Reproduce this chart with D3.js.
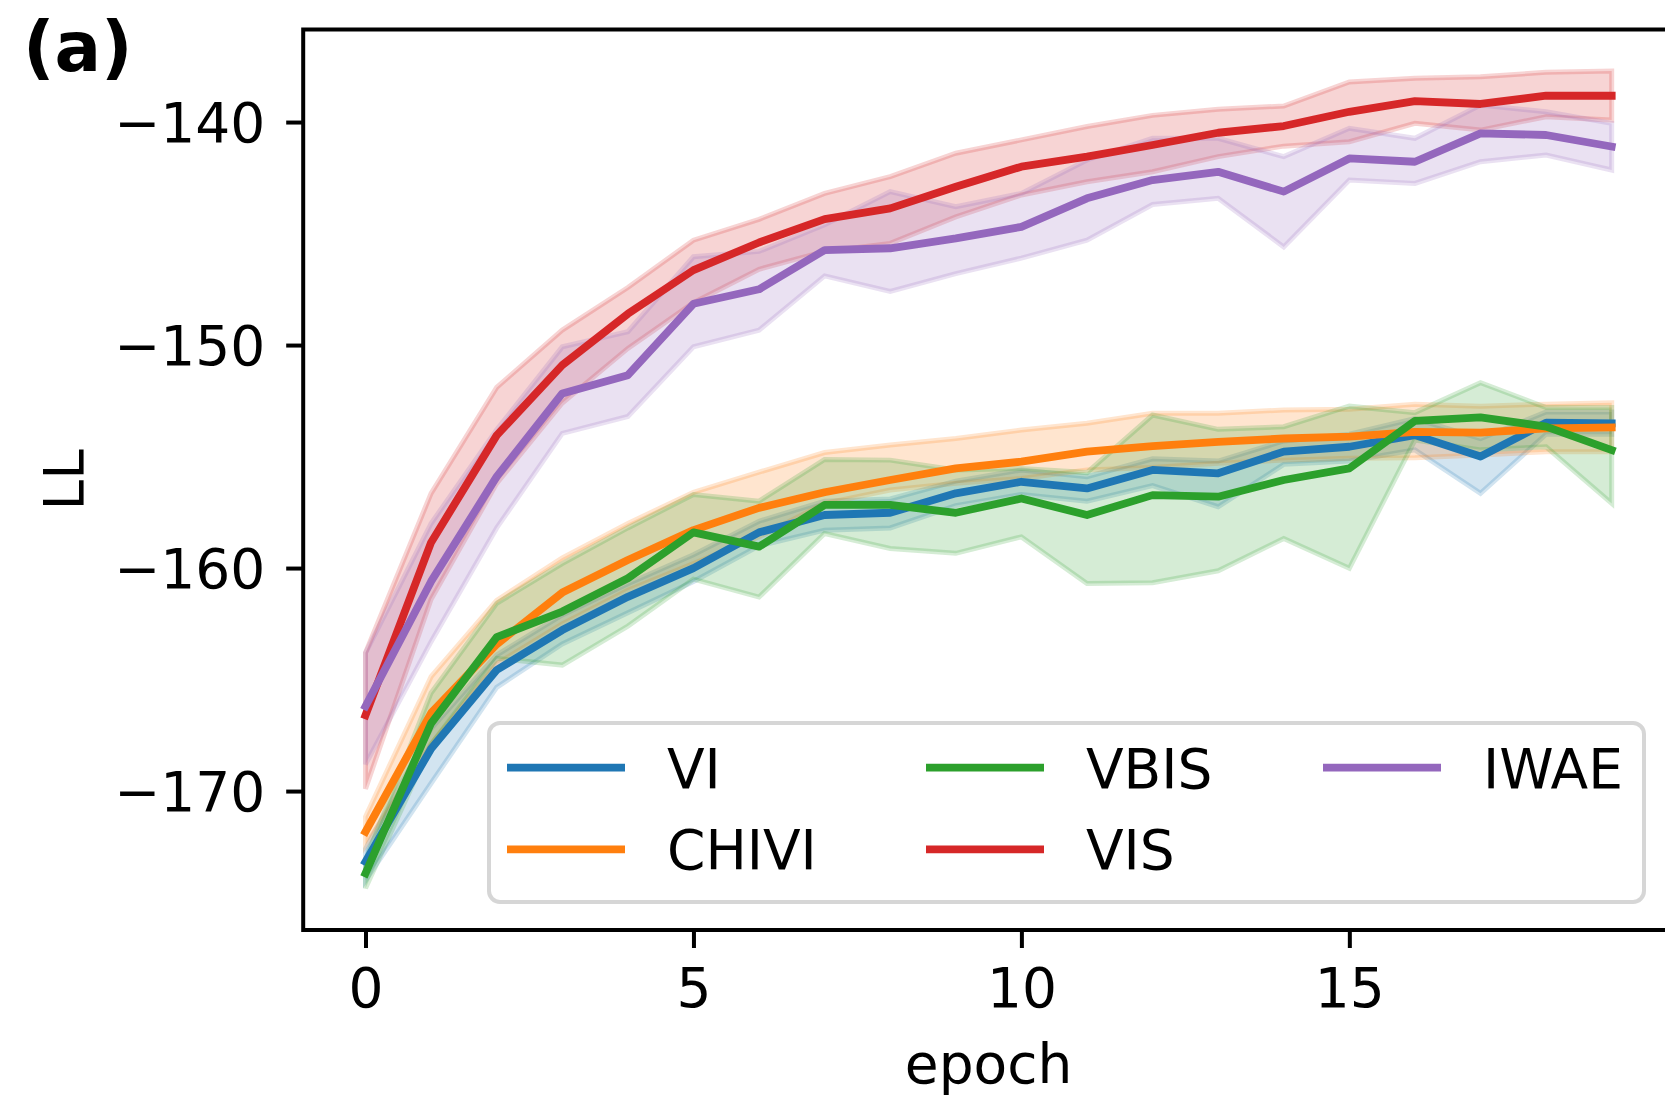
<!DOCTYPE html>
<html>
<head>
<meta charset="utf-8">
<script src="https://cdn.jsdelivr.net/npm/d3@7"></script>
<style>
  html, body { margin: 0; padding: 0; background: #fff; }
  svg { display: block; }
  text { font-family: "DejaVu Sans", sans-serif; }
</style>
</head>
<body>
<svg id="chart" width="1665" height="1095"></svg>
<script>
const epochs = d3.range(0, 20);
const xTicks = [0, 5, 10, 15];
const yTicks = [-140, -150, -160, -170];

const seriesNames = ["VI", "CHIVI", "VBIS", "VIS", "IWAE"];
const seriesColors = ["#1f77b4", "#ff7f0e", "#2ca02c", "#d62728", "#9467bd"];

const viMean  = [-173.17, -168.1, -164.57, -162.78, -161.29, -160.0, -158.4, -157.62, -157.52, -156.65, -156.13, -156.43, -155.6, -155.75, -154.78, -154.56, -154.04, -155.0, -153.48, -153.51];
const viUpper = [-172.6, -167.2, -163.9, -162.1, -160.7, -159.4, -157.9, -157.0, -156.9, -156.1, -155.6, -155.9, -155.1, -155.2, -154.3, -154.0, -153.3, -154.2, -153.0, -153.0];
const viLower = [-174.0, -169.65, -165.35, -163.4, -162.0, -160.6, -159.0, -158.3, -158.2, -157.2, -156.7, -157.0, -156.3, -157.25, -155.35, -155.2, -154.7, -156.65, -154.0, -154.0];

const chiviMean  = [-171.82, -166.5, -163.42, -161.1, -159.64, -158.3, -157.3, -156.6, -156.05, -155.53, -155.23, -154.78, -154.53, -154.34, -154.19, -154.11, -153.89, -153.93, -153.74, -153.69];
const chiviUpper = [-171.15, -164.87, -161.45, -159.55, -158.0, -156.6, -155.7, -154.82, -154.48, -154.19, -153.81, -153.51, -153.06, -153.06, -152.91, -152.88, -152.65, -152.74, -152.65, -152.59];
const chiviLower = [-172.42, -167.9, -164.3, -162.5, -161.0, -159.8, -158.6, -157.1, -156.5, -156.2, -155.98, -155.6, -155.49, -155.3, -155.16, -155.08, -155.05, -154.93, -154.78, -154.78];

const vbisMean  = [-173.69, -166.96, -163.1, -161.95, -160.46, -158.4, -159.04, -157.17, -157.17, -157.52, -156.88, -157.62, -156.73, -156.8, -156.05, -155.53, -153.4, -153.24, -153.66, -154.71];
const vbisUpper = [-173.1, -165.6, -161.58, -159.8, -158.2, -156.7, -157.0, -155.13, -155.16, -155.6, -155.53, -155.72, -153.14, -153.78, -153.66, -152.74, -153.03, -151.69, -152.8, -152.8];
const vbisLower = [-174.36, -167.9, -164.05, -164.35, -162.6, -160.5, -161.3, -158.45, -159.12, -159.34, -158.6, -160.69, -160.66, -160.12, -158.67, -160.01, -154.26, -154.7, -154.56, -157.1];

const visMean  = [-166.6, -158.85, -154.05, -150.9, -148.6, -146.64, -145.4, -144.35, -143.87, -142.9, -142.0, -141.55, -141.03, -140.48, -140.18, -139.54, -139.06, -139.19, -138.82, -138.82];
const visUpper = [-163.8, -156.65, -151.9, -149.33, -147.42, -145.3, -144.36, -143.2, -142.45, -141.4, -140.8, -140.2, -139.7, -139.43, -139.28, -138.2, -138.04, -137.97, -137.77, -137.71];
const visLower = [-169.9, -161.4, -156.2, -152.6, -150.15, -148.1, -146.6, -145.8, -145.44, -144.25, -143.27, -142.68, -142.23, -141.55, -141.08, -140.88, -140.06, -140.36, -139.76, -139.91];

const iwaeMean  = [-166.2, -160.6, -155.9, -152.17, -151.35, -148.15, -147.5, -145.74, -145.66, -145.22, -144.7, -143.42, -142.6, -142.23, -143.12, -141.63, -141.78, -140.51, -140.58, -141.1];
const iwaeUpper = [-163.8, -158.0, -153.8, -150.08, -149.4, -146.04, -145.8, -144.6, -143.12, -143.8, -143.2, -141.7, -140.73, -140.73, -141.55, -140.28, -140.73, -139.24, -139.54, -140.06];
const iwaeLower = [-168.8, -163.3, -158.2, -153.96, -153.2, -150.08, -149.33, -146.9, -147.6, -146.8, -146.1, -145.3, -143.7, -143.42, -145.6, -142.6, -142.75, -141.78, -141.48, -142.15];

const means  = [viMean, chiviMean, vbisMean, visMean, iwaeMean];
const uppers = [viUpper, chiviUpper, vbisUpper, visUpper, iwaeUpper];
const lowers = [viLower, chiviLower, vbisLower, visLower, iwaeLower];

// ---- layout ----
const svg = d3.select("#chart");
const axLeft = 303.2, axRight = 1674, axTop = 29.5, axBottom = 930;
const FS = 55;

const x = d3.scaleLinear().domain([-0.95, 19.95]).range([axLeft, axRight]);
const y = d3.scaleLinear().domain([-176.23, -135.85]).range([axBottom, axTop]);

const plot = svg.append("g");

// fills (zorder 1)
const area = d3.area()
  .x((d, i) => x(epochs[i]))
  .y0(d => y(d[0]))
  .y1(d => y(d[1]));
seriesNames.forEach((name, s) => {
  const data = epochs.map((e, i) => [lowers[s][i], uppers[s][i]]);
  plot.append("path")
    .attr("d", area(data))
    .attr("fill", seriesColors[s])
    .attr("fill-opacity", 0.2)
    .attr("stroke", seriesColors[s])
    .attr("stroke-opacity", 0.2)
    .attr("stroke-width", 5)
    .attr("stroke-linejoin", "miter");
});

// lines (zorder 2)
const line = d3.line()
  .x((d, i) => x(epochs[i]))
  .y(d => y(d));
seriesNames.forEach((name, s) => {
  plot.append("path")
    .attr("d", line(means[s]))
    .attr("fill", "none")
    .attr("stroke", seriesColors[s])
    .attr("stroke-width", 7.8)
    .attr("stroke-linejoin", "round")
    .attr("stroke-linecap", "square");
});

// axes
const xAxis = d3.axisBottom(x).tickValues(xTicks).tickSize(18).tickPadding(20)
  .tickFormat(d3.format("d"));
const gx = svg.append("g").attr("transform", `translate(0,${axBottom})`).call(xAxis);
gx.select(".domain").remove();
gx.selectAll(".tick line").attr("stroke", "#000").attr("stroke-width", 4);
gx.selectAll(".tick text").attr("font-size", FS).attr("fill", "#000")
  .attr("font-family", "DejaVu Sans").attr("dy", "0.71em");

const yAxis = d3.axisLeft(y).tickValues(yTicks).tickSize(17).tickPadding(21)
  .tickFormat(d => "\u2212" + Math.abs(d));
const gy = svg.append("g").attr("transform", `translate(${axLeft},0)`).call(yAxis);
gy.select(".domain").remove();
gy.selectAll(".tick line").attr("stroke", "#000").attr("stroke-width", 4);
gy.selectAll(".tick text").attr("font-size", FS).attr("fill", "#000")
  .attr("font-family", "DejaVu Sans").attr("dy", "0.36em");

// spines
svg.append("rect")
  .attr("x", axLeft).attr("y", axTop)
  .attr("width", axRight - axLeft).attr("height", axBottom - axTop)
  .attr("fill", "none").attr("stroke", "#000").attr("stroke-width", 4);

// axis labels
svg.append("text")
  .attr("x", (axLeft + axRight) / 2).attr("y", 1083)
  .attr("text-anchor", "middle").attr("font-size", FS).text("epoch");
svg.append("text")
  .attr("transform", `translate(83,${(axTop + axBottom) / 2}) rotate(-90)`)
  .attr("text-anchor", "middle").attr("font-size", FS).text("LL");

// panel label
svg.append("text")
  .attr("x", 23).attr("y", 71)
  .attr("font-size", 69).attr("font-weight", "bold").text("(a)");

// legend
const legX = 489, legY = 723, legW = 1155, legH = 179;
const leg = svg.append("g");
leg.append("rect")
  .attr("x", legX).attr("y", legY).attr("width", legW).attr("height", legH)
  .attr("rx", 11).attr("ry", 11)
  .attr("fill", "#fff").attr("fill-opacity", 0.8)
  .attr("stroke", "#cccccc").attr("stroke-opacity", 0.8).attr("stroke-width", 4);
const colX = [507, 926, 1323];
const rowY = [767.7, 849.3];
seriesNames.forEach((name, s) => {
  const c = Math.floor(s / 2), r = s % 2;
  const g = leg.append("g");
  g.append("line")
    .attr("x1", colX[c]).attr("x2", colX[c] + 118)
    .attr("y1", rowY[r]).attr("y2", rowY[r])
    .attr("stroke", seriesColors[s]).attr("stroke-width", 7.8);
  g.append("text")
    .attr("x", colX[c] + 160).attr("y", rowY[r] + 20)
    .attr("font-size", FS).text(name);
});
</script>
</body>
</html>
